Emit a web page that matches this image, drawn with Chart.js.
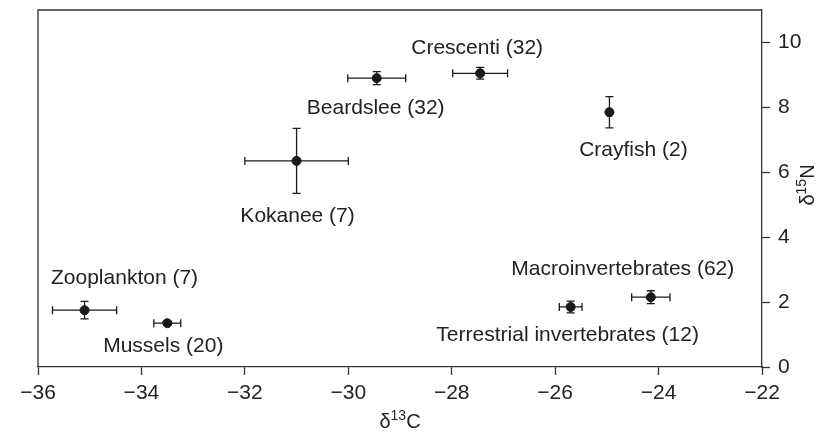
<!DOCTYPE html>
<html>
<head>
<meta charset="utf-8">
<script src="https://cdn.jsdelivr.net/npm/chart.js@4"></script>
<style>
    html, body { margin: 0; padding: 0; background: #fff; }
    #wrap { width: 824px; height: 434px; }
</style>
</head>
<body>
<div id="wrap"><canvas id="isotope_chart" width="824" height="434"></canvas></div>
<script>
// groups and their mean / sd values (d13C on x, d15N on y)
const groups = ['Zooplankton (7)', 'Mussels (20)', 'Kokanee (7)', 'Beardslee (32)', 'Crescenti (32)', 'Crayfish (2)', 'Terrestrial invertebrates (12)', 'Macroinvertebrates (62)'];
const d13C = [-35.1, -33.5, -31.0, -29.45, -27.45, -24.95, -25.7, -24.15];
const d15N = [1.75, 1.35, 6.35, 8.9, 9.05, 7.85, 1.85, 2.15];
const d13C_err = [0.62, 0.26, 1.0, 0.56, 0.53, 0.04, 0.22, 0.37];
const d15N_err = [0.27, 0.07, 1.0, 0.2, 0.18, 0.48, 0.18, 0.2];
const xTicks = [-36, -34, -32, -30, -28, -26, -24, -22];
const yTicks = [0, 2, 4, 6, 8, 10];

let colors = {
    'ink': '#1a1a1a',
    'axis': '#333',
    'text': '#222',
};
const FONT = '"Liberation Sans", Arial, sans-serif';
const FONT_SIZE = 21;
const TITLE_SIZE = 20;

// label offsets in px from each point (label centre)
const labelOffsets = [[40, -32], [-4, 23], [1, 55], [-1, 30], [-3, -25], [24, 38], [-3, 28], [-28, -28]];

const points = d13C.map((x, i) => ({ x: x, y: d15N[i] }));

function drawSup(ctx, parts, x, y) {
    // parts: [[text, isSup], ...], drawn centred on x
    let widths = parts.map(p => {
        ctx.font = (p[1] ? 14 : TITLE_SIZE) + 'px ' + FONT;
        return ctx.measureText(p[0]).width;
    });
    let total = widths.reduce((a, b) => a + b, 0);
    let cx = x - total / 2;
    parts.forEach((p, i) => {
        ctx.font = (p[1] ? 14 : TITLE_SIZE) + 'px ' + FONT;
        ctx.textAlign = 'left';
        ctx.textBaseline = 'middle';
        ctx.fillText(p[0], cx, p[1] ? y - 6 : y);
        cx += widths[i];
    });
}

const errorBars = {
    id: 'errorBars',
    afterDatasetsDraw(chart) {
        const ctx = chart.ctx;
        const xs = chart.scales.x, ys = chart.scales.y;
        ctx.save();
        ctx.strokeStyle = colors.ink;
        ctx.lineWidth = 1.3;
        points.forEach((p, i) => {
            let px = xs.getPixelForValue(p.x), py = ys.getPixelForValue(p.y);
            let x0 = xs.getPixelForValue(p.x - d13C_err[i]), x1 = xs.getPixelForValue(p.x + d13C_err[i]);
            let y0 = ys.getPixelForValue(p.y - d15N_err[i]), y1 = ys.getPixelForValue(p.y + d15N_err[i]);
            ctx.beginPath();
            ctx.moveTo(x0, py); ctx.lineTo(x1, py);
            ctx.moveTo(x0, py - 4); ctx.lineTo(x0, py + 4);
            ctx.moveTo(x1, py - 4); ctx.lineTo(x1, py + 4);
            ctx.moveTo(px, y0); ctx.lineTo(px, y1);
            ctx.moveTo(px - 4, y0); ctx.lineTo(px + 4, y0);
            ctx.moveTo(px - 4, y1); ctx.lineTo(px + 4, y1);
            ctx.stroke();
        });
        ctx.restore();
    },
    afterDraw(chart) {
        const ctx = chart.ctx;
        const a = chart.chartArea;
        const xs = chart.scales.x, ys = chart.scales.y;
        ctx.save();
        // frame top and left
        ctx.strokeStyle = colors.axis;
        ctx.lineWidth = 1.3;
        ctx.beginPath();
        ctx.moveTo(a.left, a.bottom); ctx.lineTo(a.left, a.top); ctx.lineTo(a.right, a.top);
        ctx.stroke();
        // group labels
        ctx.fillStyle = colors.text;
        ctx.font = FONT_SIZE + 'px ' + FONT;
        ctx.textAlign = 'center';
        ctx.textBaseline = 'middle';
        groups.forEach((g, i) => {
            let px = xs.getPixelForValue(d13C[i]), py = ys.getPixelForValue(d15N[i]);
            ctx.fillText(g, px + labelOffsets[i][0], py + labelOffsets[i][1]);
        });
        // axis titles
        drawSup(ctx, [['δ', false], ['13', true], ['C', false]], (a.left + a.right) / 2, 422);
        ctx.translate(808, 185);
        ctx.rotate(-Math.PI / 2);
        drawSup(ctx, [['δ', false], ['15', true], ['N', false]], 0, 0);
        ctx.restore();
    }
};

const minus = v => v < 0 ? '\u2212' + Math.abs(v) : '' + v;

new Chart(document.getElementById('isotope_chart'), {
    type: 'scatter',
    data: {
        datasets: [{
            label: 'groups',
            data: points,
            backgroundColor: colors.ink,
            borderColor: colors.ink,
            pointRadius: 4.5,
            pointHoverRadius: 4.5,
        }]
    },
    options: {
        responsive: false,
        animation: false,
        layout: { padding: { left: 38, top: 10, right: 0, bottom: 0 } },
        plugins: {
            legend: { display: false },
            tooltip: { enabled: false },
        },
        scales: {
            x: {
                type: 'linear',
                position: 'bottom',
                min: -36,
                max: -22,
                afterBuildTicks: s => { s.ticks = xTicks.map(v => ({ value: v })); },
                afterFit: s => { s.height = 67; s.paddingLeft = 0; s.paddingRight = 0; },
                grid: { drawOnChartArea: false, drawTicks: true, tickLength: 8, color: colors.axis, tickWidth: 1.3 },
                border: { color: colors.axis, width: 1.3 },
                ticks: { color: colors.text, padding: 6, maxRotation: 0, font: { size: FONT_SIZE, family: FONT }, callback: minus },
            },
            y: {
                type: 'linear',
                position: 'right',
                min: 0,
                max: 11,
                afterBuildTicks: s => { s.ticks = yTicks.map(v => ({ value: v })); },
                afterFit: s => { s.width = 62; s.paddingTop = 0; s.paddingBottom = 0; },
                grid: { drawOnChartArea: false, drawTicks: true, tickLength: 8, color: colors.axis, tickWidth: 1.3 },
                border: { color: colors.axis, width: 1.3 },
                ticks: { color: colors.text, padding: 8, font: { size: FONT_SIZE, family: FONT } },
            }
        }
    },
    plugins: [errorBars]
});
</script>
</body>
</html>
